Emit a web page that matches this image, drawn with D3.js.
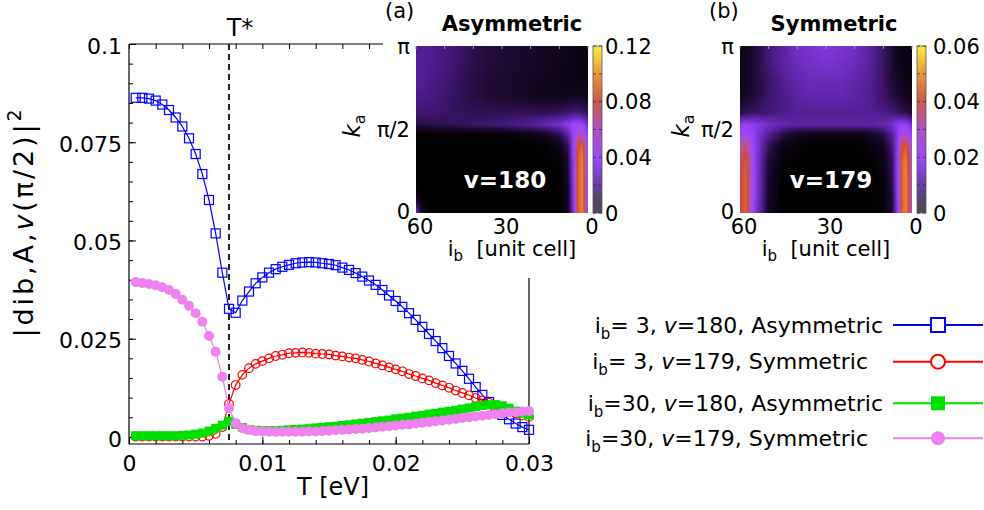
<!DOCTYPE html>
<html>
<head>
<meta charset="utf-8">
<script src="https://cdnjs.cloudflare.com/ajax/libs/d3/7.8.5/d3.min.js"></script>
<style>
  body { margin: 0; background: #fff; }
  svg { display: block; font-family: "DejaVu Sans", Verdana, sans-serif; }
  text { white-space: pre; }
</style>
</head>
<body>
<svg id="chart" width="984" height="510"></svg>
<script>
// ---- main panel: |d|^2 at k = pi/2 versus temperature ----
const temps = [
  0.0005, 0.0010, 0.0015, 0.0020, 0.0025, 0.0030, 0.0035, 0.0040, 0.0045, 0.0050,
  0.0055, 0.0060, 0.0065, 0.0070, 0.0075, 0.0080, 0.0085, 0.0090, 0.0095, 0.0100,
  0.0105, 0.0110, 0.0115, 0.0120, 0.0125, 0.0130, 0.0135, 0.0140, 0.0145, 0.0150,
  0.0155, 0.0160, 0.0165, 0.0170, 0.0175, 0.0180, 0.0185, 0.0190, 0.0195, 0.0200,
  0.0205, 0.0210, 0.0215, 0.0220, 0.0225, 0.0230, 0.0235, 0.0240, 0.0245, 0.0250,
  0.0255, 0.0260, 0.0265, 0.0270, 0.0275, 0.0280, 0.0285, 0.0290, 0.0295, 0.0300
];
const asymIb3 = [
  0.0863, 0.0863, 0.0861, 0.0856, 0.0846, 0.0832, 0.0813, 0.0790, 0.0760, 0.0720,
  0.0669, 0.0603, 0.0518, 0.0418, 0.0326, 0.0316, 0.0347, 0.0370, 0.0391, 0.0406,
  0.0418, 0.0427, 0.0433, 0.0438, 0.0442, 0.0444, 0.0445, 0.0444, 0.0442, 0.0440,
  0.0437, 0.0431, 0.0425, 0.0417, 0.0408, 0.0398, 0.0387, 0.0374, 0.0360, 0.0346,
  0.0331, 0.0315, 0.0298, 0.0280, 0.0262, 0.0244, 0.0226, 0.0206, 0.0187, 0.0168,
  0.0148, 0.0127, 0.0107, 0.0089, 0.0071, 0.0056, 0.0045, 0.0034, 0.0025, 0.0018
];
const symIb3 = [
  0.0001, 0.0001, 0.0001, 0.0001, 0.0001, 0.0001, 0.0001, 0.0001, 0.0001, 0.0001,
  0.0001, 0.0003, 0.0008, 0.0025, 0.0084, 0.0132, 0.0158, 0.0175, 0.0186, 0.0193,
  0.0200, 0.0206, 0.0209, 0.0213, 0.0214, 0.0215, 0.0214, 0.0212, 0.0211, 0.0210,
  0.0207, 0.0205, 0.0202, 0.0200, 0.0196, 0.0192, 0.0187, 0.0182, 0.0177, 0.0172,
  0.0167, 0.0160, 0.0155, 0.0149, 0.0144, 0.0137, 0.0131, 0.0125, 0.0118, 0.0112,
  0.0106, 0.0099, 0.0093, 0.0087, 0.0080, 0.0074, 0.0066, 0.0060, 0.0055, 0.0051
];
const asymIb30 = [
  0.0003, 0.0003, 0.0003, 0.0003, 0.0003, 0.0003, 0.0003, 0.0004, 0.0005, 0.0007,
  0.0010, 0.0015, 0.0022, 0.0030, 0.0040, 0.0032, 0.0024, 0.0019, 0.0017, 0.0016,
  0.0016, 0.0016, 0.0017, 0.0018, 0.0019, 0.0020, 0.0021, 0.0023, 0.0024, 0.0026,
  0.0027, 0.0029, 0.0031, 0.0033, 0.0035, 0.0037, 0.0039, 0.0041, 0.0043, 0.0046,
  0.0048, 0.0050, 0.0053, 0.0055, 0.0058, 0.0060, 0.0063, 0.0065, 0.0068, 0.0071,
  0.0074, 0.0077, 0.0080, 0.0082, 0.0082, 0.0079, 0.0073, 0.0066, 0.0060, 0.0056
];
const symIb30 = [
  0.0394, 0.0392, 0.0389, 0.0386, 0.0381, 0.0374, 0.0364, 0.0349, 0.0334, 0.0315,
  0.0293, 0.0257, 0.0217, 0.0153, 0.0073, 0.0035, 0.0022, 0.0018, 0.0015, 0.0014,
  0.0013, 0.0013, 0.0013, 0.0013, 0.0013, 0.0013, 0.0014, 0.0014, 0.0015, 0.0016,
  0.0017, 0.0018, 0.0019, 0.0020, 0.0021, 0.0023, 0.0024, 0.0026, 0.0027, 0.0029,
  0.0031, 0.0032, 0.0034, 0.0036, 0.0038, 0.0040, 0.0042, 0.0044, 0.0046, 0.0048,
  0.0050, 0.0052, 0.0054, 0.0056, 0.0058, 0.0060, 0.0062, 0.0063, 0.0065, 0.0066
];
const tStar = 0.0075;
const yTicks = [0, 0.025, 0.05, 0.075, 0.1];
const xTicks = [0, 0.01, 0.02, 0.03];

// legend entries
const legendIb = [" 3", " 3", "30", "30"];
const legendNu = ["180", "179", "180", "179"];
const legendKind = ["Asymmetric", "Symmetric", "Asymmetric", "Symmetric"];

// ---- insets: |d|^2 over (i_b, k_a), coarse grid ----
const ibCols = [60, 58, 55, 50, 45, 40, 35, 30, 25, 20, 15, 10, 7, 5, 3.5, 2, 0.5];
const kaRows = [0, 0.1, 0.2, 0.3, 0.4, 0.47, 0.53, 0.6, 0.7, 0.8, 0.9, 1.0]; // units of pi
const mapAsym = [
  [0.030, 0.008, 0, 0, 0, 0, 0, 0, 0, 0, 0, 0, 0.006, 0.034, 0.084, 0.096, 0.055],
  [0.003, 0, 0, 0, 0, 0, 0, 0, 0, 0, 0, 0, 0.007, 0.036, 0.086, 0.099, 0.056],
  [0, 0, 0, 0, 0, 0, 0, 0, 0, 0, 0, 0, 0.008, 0.037, 0.086, 0.099, 0.056],
  [0, 0, 0, 0, 0, 0, 0, 0, 0, 0, 0, 0.001, 0.010, 0.038, 0.086, 0.097, 0.055],
  [0, 0, 0, 0, 0, 0, 0, 0, 0, 0, 0.001, 0.004, 0.014, 0.040, 0.082, 0.090, 0.052],
  [0.001, 0.001, 0.001, 0.001, 0.001, 0.001, 0.002, 0.002, 0.003, 0.004, 0.006, 0.013, 0.024, 0.040, 0.055, 0.055, 0.038],
  [0.012, 0.012, 0.013, 0.014, 0.015, 0.016, 0.017, 0.018, 0.020, 0.022, 0.026, 0.031, 0.036, 0.041, 0.043, 0.040, 0.032],
  [0.017, 0.017, 0.017, 0.016, 0.015, 0.014, 0.014, 0.014, 0.014, 0.014, 0.014, 0.015, 0.017, 0.019, 0.019, 0.017, 0.015],
  [0.020, 0.020, 0.019, 0.017, 0.014, 0.012, 0.010, 0.009, 0.008, 0.007, 0.006, 0.006, 0.006, 0.006, 0.006, 0.006, 0.005],
  [0.022, 0.022, 0.020, 0.018, 0.015, 0.012, 0.010, 0.009, 0.008, 0.007, 0.006, 0.005, 0.005, 0.005, 0.004, 0.004, 0.004],
  [0.022, 0.022, 0.021, 0.019, 0.016, 0.013, 0.011, 0.010, 0.009, 0.008, 0.007, 0.006, 0.005, 0.005, 0.004, 0.004, 0.004],
  [0.020, 0.022, 0.021, 0.019, 0.016, 0.013, 0.011, 0.010, 0.009, 0.008, 0.007, 0.006, 0.005, 0.005, 0.004, 0.004, 0.004]
];
const mapSym = [
  [0.038, 0.044, 0.018, 0.003, 0, 0, 0, 0, 0, 0, 0, 0.001, 0.005, 0.018, 0.043, 0.048, 0.032],
  [0.038, 0.044, 0.019, 0.004, 0, 0, 0, 0, 0, 0, 0, 0.001, 0.005, 0.019, 0.044, 0.049, 0.032],
  [0.038, 0.044, 0.019, 0.004, 0, 0, 0, 0, 0, 0, 0, 0.001, 0.006, 0.019, 0.044, 0.049, 0.032],
  [0.037, 0.043, 0.019, 0.005, 0.001, 0, 0, 0, 0, 0, 0, 0.002, 0.007, 0.019, 0.044, 0.048, 0.031],
  [0.032, 0.036, 0.019, 0.007, 0.002, 0.001, 0, 0, 0, 0, 0.001, 0.003, 0.009, 0.019, 0.040, 0.043, 0.028],
  [0.021, 0.022, 0.018, 0.011, 0.006, 0.003, 0.002, 0.002, 0.002, 0.002, 0.003, 0.006, 0.011, 0.018, 0.026, 0.026, 0.020],
  [0.017, 0.019, 0.018, 0.015, 0.013, 0.012, 0.012, 0.012, 0.012, 0.012, 0.012, 0.013, 0.015, 0.018, 0.019, 0.019, 0.016],
  [0.006, 0.007, 0.008, 0.009, 0.010, 0.011, 0.011, 0.011, 0.011, 0.011, 0.011, 0.010, 0.009, 0.008, 0.007, 0.006, 0.005],
  [0.003, 0.004, 0.005, 0.008, 0.010, 0.012, 0.013, 0.013, 0.013, 0.012, 0.011, 0.008, 0.006, 0.005, 0.004, 0.003, 0.003],
  [0.002, 0.003, 0.005, 0.008, 0.011, 0.013, 0.014, 0.014, 0.014, 0.013, 0.011, 0.008, 0.005, 0.004, 0.003, 0.002, 0.002],
  [0.002, 0.003, 0.005, 0.009, 0.012, 0.014, 0.015, 0.016, 0.015, 0.014, 0.012, 0.008, 0.005, 0.003, 0.002, 0.002, 0.002],
  [0.002, 0.003, 0.005, 0.009, 0.012, 0.015, 0.016, 0.017, 0.016, 0.015, 0.012, 0.008, 0.005, 0.003, 0.002, 0.002, 0.002]
];
const mapMax = [0.12, 0.06];
const mapCbTicks = [[0, 0.04, 0.08, 0.12], [0, 0.02, 0.04, 0.06]];
const mapTags = ["(a)", "(b)"];
const mapTitles = ["Asymmetric", "Symmetric"];
const mapNu = ["v=180", "v=179"];

// ---------------------------------------------------------------
const svg = d3.select("#chart");
const defs = svg.append("defs");

const M = { left: 129, right: 529, top: 44, bottom: 444 };
const x = d3.scaleLinear().domain([0, 0.03]).range([M.left, M.right]);
const y = d3.scaleLinear().domain([-0.0018, 0.1]).range([M.bottom, M.top]);
const fmt = d3.format("~g");

// frame (top and right edges are partly hidden by the insets)
const frame = svg.append("g").attr("stroke", "#000").attr("stroke-width", 1.2);
frame.append("line").attr("x1", M.left).attr("x2", M.left).attr("y1", M.top).attr("y2", M.bottom);
frame.append("line").attr("x1", M.left).attr("x2", M.right).attr("y1", M.bottom).attr("y2", M.bottom);
frame.append("line").attr("x1", M.left).attr("x2", 383).attr("y1", M.top).attr("y2", M.top);
frame.append("line").attr("x1", M.right).attr("x2", M.right).attr("y1", 278).attr("y2", M.bottom);

function styleAxis(g) {
  g.select(".domain").remove();
  g.selectAll(".tick line").attr("stroke", "#000");
  g.selectAll(".tick text").attr("font-size", 22).attr("fill", "#000")
    .attr("font-family", '"DejaVu Sans", Verdana, sans-serif');
}

// y axis
svg.append("g").attr("transform", `translate(${M.left},0)`)
  .call(d3.axisLeft(y).tickValues(d3.range(0, 0.1001, 0.005)).tickSizeInner(-4).tickFormat(""))
  .call(styleAxis);
svg.append("g").attr("transform", `translate(${M.left},0)`)
  .call(d3.axisLeft(y).tickValues(yTicks).tickSizeInner(-7).tickPadding(7).tickFormat(fmt))
  .call(styleAxis)
  .selectAll(".tick text").attr("dy", "0.42em");

// x axis (bottom + mirrored ticks on the visible part of the top)
svg.append("g").attr("transform", `translate(0,${M.bottom})`)
  .call(d3.axisBottom(x).tickValues(d3.range(0, 0.0301, 0.002)).tickSizeInner(-4).tickFormat(""))
  .call(styleAxis);
svg.append("g").attr("transform", `translate(0,${M.bottom})`)
  .call(d3.axisBottom(x).tickValues(xTicks).tickSizeInner(-7).tickPadding(11).tickFormat(fmt))
  .call(styleAxis);
svg.append("g").attr("transform", `translate(0,${M.top})`)
  .call(d3.axisTop(x).tickValues(d3.range(0, 0.0301, 0.002).filter(v => x(v) < 380)).tickSizeInner(-5).tickFormat(""))
  .call(styleAxis);

// T* marker
svg.append("line")
  .attr("x1", x(tStar)).attr("x2", x(tStar)).attr("y1", M.top).attr("y2", M.bottom)
  .attr("stroke", "#222").attr("stroke-width", 2).attr("stroke-dasharray", "6,4");
svg.append("text").attr("x", x(tStar) + 11).attr("y", 36).attr("text-anchor", "middle")
  .attr("font-size", 24).text("T*");

// axis titles
svg.append("text").attr("x", 333).attr("y", 495).attr("text-anchor", "middle")
  .attr("font-size", 24).text("T [eV]");

const yl = svg.append("text").attr("id", "ylab")
  .attr("transform", "translate(33,222) rotate(-90)")
  .attr("text-anchor", "middle").attr("font-size", 27);
yl.append("tspan").text("|dib,A,");
yl.append("tspan").attr("font-style", "italic").text("v");
yl.append("tspan").text("(π/2)|");
yl.append("tspan").attr("font-size", 19).attr("dy", -12).text("2");

// ---- curves ----
const series = [
  { values: asymIb3, color: "#0000ff", shape: "square", filled: false },
  { values: symIb3, color: "#ff0000", shape: "circle", filled: false },
  { values: asymIb30, color: "#00e000", shape: "square", filled: true },
  { values: symIb30, color: "#ee82ee", shape: "circle", filled: true }
];
const lineGen = d3.line().x(d => x(d[0])).y(d => y(d[1]));

function drawMarker(g, shape, filled, color, size) {
  const el = shape === "square"
    ? g.append("rect").attr("x", -size / 2).attr("y", -size / 2).attr("width", size).attr("height", size)
    : g.append("circle").attr("r", size / 2);
  el.attr("fill", filled ? color : "none")
    .attr("stroke", color).attr("stroke-width", filled ? 0 : 1.2);
  return el;
}

series.forEach(s => {
  const pts = temps.map((t, i) => [t, s.values[i]]);
  svg.append("path").datum(pts).attr("d", lineGen)
    .attr("fill", "none").attr("stroke", s.color).attr("stroke-width", 1.2);
  const mk = svg.append("g");
  pts.forEach(p => {
    const g = mk.append("g").attr("transform", `translate(${x(p[0])},${y(p[1])})`);
    drawMarker(g, s.shape, s.filled, s.color, s.filled ? (s.shape === "circle" ? 10 : 9) : (s.shape === "circle" ? 8.6 : 9));
  });
});

// ---- legend ----
const legRowY = [325, 361.7, 403.3, 438.3];
const legTextEnd = [883, 868, 883, 868];
series.forEach((s, i) => {
  const cy = legRowY[i];
  const t = svg.append("text").attr("x", legTextEnd[i]).attr("y", cy + 7.5)
    .attr("text-anchor", "end").attr("font-size", 22);
  t.append("tspan").text("i");
  t.append("tspan").attr("font-size", 15).attr("dy", 6).text("b");
  t.append("tspan").attr("dy", -6).text("=" + legendIb[i] + ", ");
  t.append("tspan").attr("font-style", "italic").text("v");
  t.append("tspan").text("=" + legendNu[i] + ", " + legendKind[i]);
  svg.append("line").attr("x1", 893).attr("x2", 983).attr("y1", cy).attr("y2", cy)
    .attr("stroke", s.color).attr("stroke-width", 2);
  const g = svg.append("g").attr("transform", `translate(938,${cy})`);
  drawMarker(g, s.shape, s.filled, s.color, 14).attr("fill", s.filled ? s.color : "#fff").attr("stroke-width", s.filled ? 0 : 2);
});

// ---- inset heat maps ----
const palStops = [0, 0.08, 0.17, 0.33, 0.5, 0.67, 0.82, 1];
const palColors = ["#000000", "#1c0a30", "#4c1c8c", "#9a44ff", "#b050b8", "#d04a38", "#e88a30", "#fff040"];
const cbColors = ["#4c4a52", "#55456a", "#6a3ca8", "#9b48f8", "#ab52c4", "#c85a48", "#e4943c", "#f8ec40"];

const grad = defs.append("linearGradient").attr("id", "cbGrad")
  .attr("x1", 0).attr("y1", 1).attr("x2", 0).attr("y2", 0);
palStops.forEach((s, i) => grad.append("stop").attr("offset", s).attr("stop-color", cbColors[i]));

const insets = [
  { x0: 416, x1: 588, y0: 46, y1: 213, cb0: 593, cb1: 602, cbText: 605, tagX: 385, titleX: 512, kaX: 360, ibX: 512, nuX: 505 },
  { x0: 740, x1: 912, y0: 46, y1: 213, cb0: 917, cb1: 926, cbText: 933, tagX: 709, titleX: 834, kaX: 689, ibX: 826, nuX: 831 }
];
const maps = [mapAsym, mapSym];

// position of v between grid nodes: [lower index, upper index, fraction]
function bracket(nodes, v) {
  const n = nodes.length, asc = nodes[n - 1] > nodes[0];
  if (asc ? v <= nodes[0] : v >= nodes[0]) return [0, 0, 0];
  if (asc ? v >= nodes[n - 1] : v <= nodes[n - 1]) return [n - 1, n - 1, 0];
  for (let k = 0; k < n - 1; k++) {
    const a = nodes[k], b = nodes[k + 1];
    if ((v - a) * (v - b) <= 0) return [k, k + 1, (v - a) / (b - a)];
  }
  return [n - 1, n - 1, 0];
}

insets.forEach((L, m) => {
  const xs = d3.scaleLinear().domain([60, 0]).range([L.x0, L.x1]);
  const ys = d3.scaleLinear().domain([0, 1]).range([L.y1, L.y0]);
  const color = d3.scaleLinear().domain(palStops.map(s => s * mapMax[m])).range(palColors).clamp(true);
  const grid = maps[m];

  // shaded map (pm3d-like): each pixel shaded from the surrounding grid nodes
  const w = L.x1 - L.x0, h = L.y1 - L.y0;
  const canvas = document.createElement("canvas");
  canvas.width = w; canvas.height = h;
  const ctx = canvas.getContext("2d");
  const img = ctx.createImageData(w, h);
  for (let py = 0; py < h; py++) {
    const [r0, r1, ty] = bracket(kaRows, ys.invert(L.y0 + py + 0.5));
    for (let px = 0; px < w; px++) {
      const [c0, c1, tx] = bracket(ibCols, xs.invert(L.x0 + px + 0.5));
      const v = (1 - ty) * ((1 - tx) * grid[r0][c0] + tx * grid[r0][c1]) +
                ty * ((1 - tx) * grid[r1][c0] + tx * grid[r1][c1]);
      const c = d3.rgb(color(v));
      const o = (py * w + px) * 4;
      img.data[o] = c.r; img.data[o + 1] = c.g; img.data[o + 2] = c.b; img.data[o + 3] = 255;
    }
  }
  ctx.putImageData(img, 0, 0);
  svg.append("image").attr("href", canvas.toDataURL())
    .attr("x", L.x0).attr("y", L.y0).attr("width", w).attr("height", h)
    .attr("preserveAspectRatio", "none");

  // ticks along the top edge
  svg.append("g").selectAll("line").data(d3.range(0, 61, 10)).join("line")
    .attr("x1", d => xs(d)).attr("x2", d => xs(d)).attr("y1", L.y0).attr("y2", L.y0 + 3)
    .attr("stroke", "#999").attr("stroke-width", 1);

  // tick labels
  svg.append("g").selectAll("text").data([60, 30, 0]).join("text")
    .attr("x", d => xs(d) + 4).attr("y", 234).attr("text-anchor", "middle")
    .attr("font-size", 21).text(d => d);
  const kaLab = [[0, "0"], [0.5, "π/2"], [1, "π"]];
  svg.append("g").selectAll("text").data(kaLab).join("text")
    .attr("x", L.x0 - 6).attr("y", d => ys(d[0]) - (d[0] === 0 ? 2 : 0)).attr("dy", "0.36em").attr("text-anchor", "end")
    .attr("font-size", 21).text(d => d[1]);

  // colour bar
  const cbScale = d3.scaleLinear().domain([0, mapMax[m]]).range([L.y1, L.y0]);
  svg.append("rect").attr("x", L.cb0).attr("y", L.y0).attr("width", L.cb1 - L.cb0).attr("height", L.y1 - L.y0)
    .attr("fill", "url(#cbGrad)").attr("stroke", "#555").attr("stroke-width", 0.8);
  const minor = d3.range(0, mapMax[m] + 1e-9, mapMax[m] / 6);
  svg.append("g").selectAll("path").data(minor).join("path")
    .attr("d", d => `M${L.cb0},${cbScale(d)}h3M${L.cb1},${cbScale(d)}h-3`)
    .attr("stroke", "#333").attr("stroke-width", 0.8);
  svg.append("g").selectAll("text").data(mapCbTicks[m]).join("text")
    .attr("x", L.cbText).attr("y", d => cbScale(d)).attr("dy", "0.36em")
    .attr("font-size", 21).text(d => fmt(d));

  // labels
  svg.append("text").attr("x", L.tagX).attr("y", 18).attr("font-size", 21).text(mapTags[m]);
  svg.append("text").attr("x", L.titleX).attr("y", 31).attr("text-anchor", "middle")
    .attr("font-size", 21).attr("font-weight", "bold").text(mapTitles[m]);
  svg.append("text").attr("x", L.nuX).attr("y", 188).attr("text-anchor", "middle")
    .attr("font-size", 23).attr("font-weight", "bold").attr("fill", "#fff").text(mapNu[m]);

  const ka = svg.append("text").attr("transform", `translate(${L.kaX},126) rotate(-90)`)
    .attr("text-anchor", "middle").attr("font-size", 23);
  ka.append("tspan").attr("font-style", "italic").text("k");
  ka.append("tspan").attr("font-size", 16).attr("dy", 5).text("a");

  const ib = svg.append("text").attr("x", L.ibX).attr("y", 256).attr("text-anchor", "middle").attr("font-size", 21);
  ib.append("tspan").text("i");
  ib.append("tspan").attr("font-size", 15).attr("dy", 5).text("b");
  ib.append("tspan").attr("dy", -5).text("  [unit cell]");
});

// stretch the rotated y label to the span it has in the figure
const ylNode = document.getElementById("ylab");
const ylLen = ylNode.getComputedTextLength();
const ylChars = ylNode.textContent.length;
ylNode.setAttribute("letter-spacing", Math.max(0, (231 - ylLen) / ylChars));
</script>
</body>
</html>
